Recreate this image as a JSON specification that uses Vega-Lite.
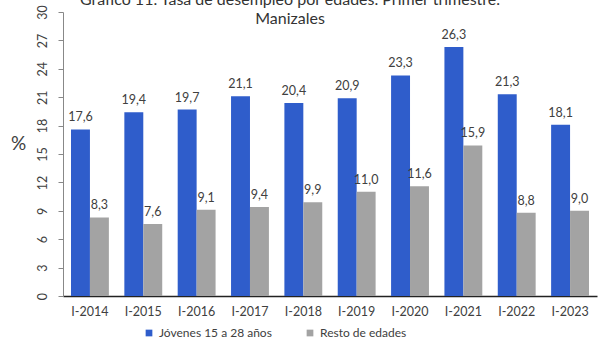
{
  "$schema": "https://vega.github.io/schema/vega-lite/v6.json",
  "width": 534,
  "height": 284,
  "autosize": "none",
  "padding": {"left": 63, "top": 12, "right": 4, "bottom": 47},
  "background": "white",
  "config": {
    "font": "Lato",
    "view": {"stroke": null},
    "locale": {"number": {"decimal": ",", "thousands": ".", "grouping": [3], "currency": ["", ""]}}
  },
  "title": {
    "text": ["Gráfico 11. Tasa de desempleo por edades. Primer trimestre.", "Manizales"],
    "fontSize": 16,
    "fontWeight": "normal",
    "color": "#333333",
    "lineHeight": 19,
    "anchor": "middle",
    "dx": -40,
    "offset": -22
  },
  "data": {
    "values": [
      {"periodo": "I-2014", "grupo": "Jóvenes 15 a 28 años", "tasa": 17.6},
      {"periodo": "I-2015", "grupo": "Jóvenes 15 a 28 años", "tasa": 19.4},
      {"periodo": "I-2016", "grupo": "Jóvenes 15 a 28 años", "tasa": 19.7},
      {"periodo": "I-2017", "grupo": "Jóvenes 15 a 28 años", "tasa": 21.1},
      {"periodo": "I-2018", "grupo": "Jóvenes 15 a 28 años", "tasa": 20.4},
      {"periodo": "I-2019", "grupo": "Jóvenes 15 a 28 años", "tasa": 20.9},
      {"periodo": "I-2020", "grupo": "Jóvenes 15 a 28 años", "tasa": 23.3},
      {"periodo": "I-2021", "grupo": "Jóvenes 15 a 28 años", "tasa": 26.3},
      {"periodo": "I-2022", "grupo": "Jóvenes 15 a 28 años", "tasa": 21.3},
      {"periodo": "I-2023", "grupo": "Jóvenes 15 a 28 años", "tasa": 18.1},
      {"periodo": "I-2014", "grupo": "Resto de edades", "tasa": 8.3},
      {"periodo": "I-2015", "grupo": "Resto de edades", "tasa": 7.6},
      {"periodo": "I-2016", "grupo": "Resto de edades", "tasa": 9.1},
      {"periodo": "I-2017", "grupo": "Resto de edades", "tasa": 9.4},
      {"periodo": "I-2018", "grupo": "Resto de edades", "tasa": 9.9},
      {"periodo": "I-2019", "grupo": "Resto de edades", "tasa": 11.0},
      {"periodo": "I-2020", "grupo": "Resto de edades", "tasa": 11.6},
      {"periodo": "I-2021", "grupo": "Resto de edades", "tasa": 15.9},
      {"periodo": "I-2022", "grupo": "Resto de edades", "tasa": 8.8},
      {"periodo": "I-2023", "grupo": "Resto de edades", "tasa": 9.0}
    ]
  },
  "encoding": {
    "x": {
      "field": "periodo",
      "type": "nominal",
      "sort": null,
      "scale": {"paddingInner": 0.29, "paddingOuter": 0.15},
      "axis": {
        "title": null,
        "labelAngle": 0,
        "labelFontSize": 12.5,
        "labelColor": "#404040",
        "labelPadding": 9,
        "ticks": false,
        "domainColor": "#222222",
        "domainWidth": 1.5
      }
    },
    "xOffset": {"field": "grupo", "type": "nominal", "scale": {"paddingInner": 0, "paddingOuter": 0}},
    "y": {
      "field": "tasa",
      "type": "quantitative",
      "scale": {"domain": [0, 30], "nice": false},
      "axis": {
        "title": "%",
        "titleAngle": 0,
        "titleFontSize": 19,
        "titleFontWeight": "normal",
        "titleColor": "#404040",
        "titleX": -45,
        "titleY": 131,
        "titleAlign": "center",
        "titleBaseline": "middle",
        "values": [0, 3, 6, 9, 12, 15, 18, 21, 24, 27, 30],
        "labelAngle": 270,
        "labelFontSize": 12.5,
        "labelColor": "#404040",
        "labelPadding": 9,
        "tickSize": 5,
        "tickColor": "#888888",
        "domainColor": "#888888",
        "grid": false
      }
    },
    "color": {
      "field": "grupo",
      "type": "nominal",
      "scale": {"domain": ["Jóvenes 15 a 28 años", "Resto de edades"], "range": ["#2F5DCB", "#A3A3A3"]},
      "legend": {
        "title": null,
        "orient": "none",
        "direction": "horizontal",
        "legendX": 80,
        "legendY": 315,
        "symbolType": "square",
        "symbolSize": 45,
        "labelFontSize": 12,
        "labelColor": "#404040",
        "columnPadding": 32
      }
    }
  },
  "layer": [
    {"mark": {"type": "bar"}},
    {
      "mark": {"type": "text", "baseline": "bottom", "dy": -5, "fontSize": 12.5},
      "encoding": {
        "text": {"field": "tasa", "type": "quantitative", "format": ".1f"},
        "color": {"value": "#404040"}
      }
    }
  ]
}
